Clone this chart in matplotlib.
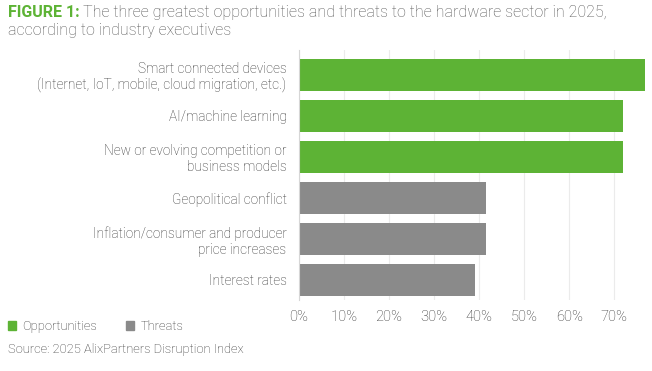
"""Horizontal bar chart: hardware sector opportunities and threats, 2025."""

import matplotlib

matplotlib.use("Agg")
import matplotlib.pyplot as plt
from matplotlib.patches import Patch
from matplotlib.ticker import FuncFormatter, MultipleLocator

categories = [
    "Smart connected devices\n(Internet, IoT, mobile, cloud migration, etc.)",
    "AI/machine learning",
    "New or evolving competition or\nbusiness models",
    "Geopolitical conflict",
    "Inflation/consumer and producer\nprice increases",
    "Interest rates",
]
values = [76.7, 71.9, 71.9, 41.5, 41.5, 39.1]
groups = ["Opportunities", "Opportunities", "Opportunities", "Threats", "Threats", "Threats"]

GREEN = "#5db335"
GREY = "#8a8a8a"
TEXT = "#333333"
group_colors = {"Opportunities": GREEN, "Threats": GREY}

plt.rcParams["font.family"] = ["Roboto", "DejaVu Sans"]

fig = plt.figure(figsize=(6.52, 3.71), dpi=100)
ax = fig.add_axes([0.4586, 0.191, 0.532, 0.674])

positions = list(range(len(categories)))
ax.barh(positions, values, height=0.78,
        color=[group_colors[g] for g in groups], zorder=2)

ax.set_ylim(len(categories) - 0.5, -0.6)
ax.set_xlim(0, 77)
ax.set_yticks(positions)
ax.set_yticklabels(categories, fontsize=9.8, color=TEXT, fontweight="light",
                   linespacing=1.2)
ax.xaxis.set_major_locator(MultipleLocator(10))
ax.xaxis.set_major_formatter(FuncFormatter(lambda v, _: f"{v:.0f}%"))
ax.tick_params(axis="x", length=0, labelsize=10.5, labelcolor=TEXT, pad=7)
ax.tick_params(axis="y", length=0, pad=9)
for label in ax.get_xticklabels():
    label.set_fontweight("light")

ax.grid(axis="x", color="#ebebeb", linewidth=0.8, zorder=0)
for side in ("top", "right", "bottom"):
    ax.spines[side].set_visible(False)
ax.spines["left"].set_color("#d6d6d6")
ax.spines["left"].set_linewidth(0.8)

# title: bold green lead-in followed by regular text
renderer = fig.canvas.get_renderer()
lead = fig.text(0.012, 0.965, "FIGURE 1:", fontsize=11.5, fontweight="bold",
                color=GREEN, va="center")
lead_box = lead.get_window_extent(renderer)
fig.text(lead_box.x1 / fig.bbox.width + 0.006, 0.965,
         "The three greatest opportunities and threats to the hardware sector in 2025,",
         fontsize=11.5, color="#555555", va="center", fontweight="light")
fig.text(0.012, 0.917, "according to industry executives", fontsize=11.5,
         color="#555555", va="center", fontweight="light")

handles = [Patch(color=GREEN, label="Opportunities"), Patch(color=GREY, label="Threats")]
leg = fig.legend(handles=handles, loc="center left", bbox_to_anchor=(0.004, 0.12),
                 ncol=2, frameon=False, handlelength=0.6, handleheight=0.6,
                 handletextpad=0.5, columnspacing=2.3, borderaxespad=0,
                 prop={"size": 9.3, "weight": "light"})
for text in leg.get_texts():
    text.set_color(TEXT)

fig.text(0.012, 0.058, "Source: 2025 AlixPartners Disruption Index", fontsize=9.3,
         color=TEXT, va="center", fontweight="light")

fig.savefig("out.png", dpi=100)
